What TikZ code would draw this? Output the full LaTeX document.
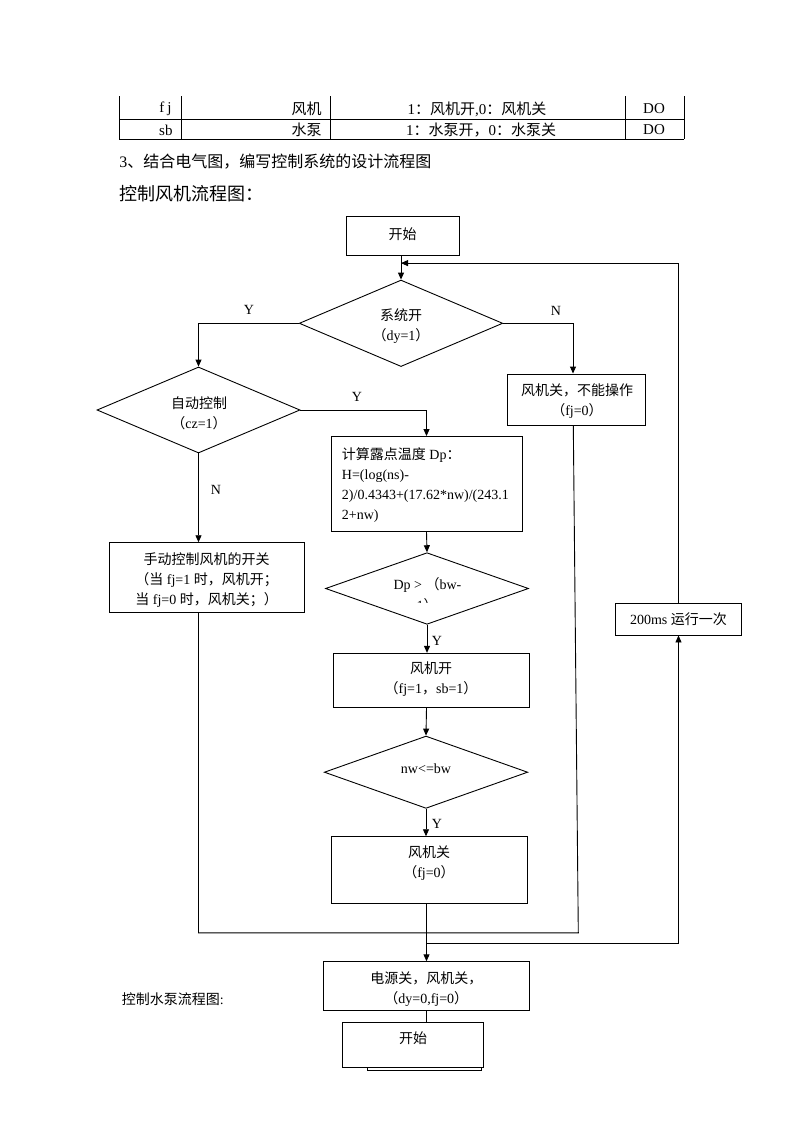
\documentclass[tikz,border=0pt]{standalone}
\usepackage{fontspec}
\setmainfont{Liberation Serif}
\newfontfamily\cjk{Noto Sans CJK SC}
\newcommand\zh[1]{{\cjk #1}}
\usetikzlibrary{shapes.geometric,arrows.meta,calc}
\begin{document}
\begin{tikzpicture}[x=1pt,y=-1pt,line width=0.9pt,
  box/.style={draw,rectangle,inner sep=0pt},
  dia/.style={draw,diamond,inner sep=0pt},
  txt/.style={inner sep=0pt,align=center,font=\fontsize{14}{20}\selectfont},
  lab/.style={inner sep=0pt,font=\fontsize{14}{16}\selectfont},
  tb/.style={inner sep=0pt,font=\fontsize{15}{18}\selectfont},
  arr/.style={-{Triangle[length=7pt,width=6pt]}}]
\path[use as bounding box,fill=white] (0,0) rectangle (800,1132);

% ---- table
\draw (119.3,119.3) -- (684.3,119.3) (119.3,139.3) -- (684.3,139.3);
\foreach \x in {119.3,181,330,625,684.3} \draw (\x,96) -- (\x,139.3);
\node[tb,anchor=east] (r1a) at (172,109) {f\hspace{3pt}j};
\node[tb,anchor=east] (r1b) at (322,109) {\zh{风机}};
\node[tb] (r1c) at (477,109) {1\zh{：风机开},0\zh{：风机关}};
\node[tb] (r1d) at (654,109) {DO};
\node[tb,anchor=east] (r2a) at (173,130) {sb};
\node[tb,anchor=east] (r2b) at (322,130) {\zh{水泵}};
\node[tb] (r2c) at (481,130) {1\zh{：水泵开，}0\zh{：水泵关}};
\node[tb] (r2d) at (654,130) {DO};

% ---- headings
\node[inner sep=0pt,anchor=west,font=\fontsize{16}{18}\selectfont] (h1) at (119,162) {3\zh{、结合电气图，编写控制系统的设计流程图}};
\node[inner sep=0pt,anchor=west,font=\fontsize{18}{20}\selectfont] (h2) at (119,194) {\zh{控制风机流程图：}};
\node[inner sep=0pt,anchor=west,font=\fontsize{14}{16}\selectfont] (h3) at (121.5,999.5) {\zh{控制水泵流程图}:};

% ---- flowchart shapes
\coordinate (spine) at (426.5,0);
\node[box,minimum width=113pt,minimum height=39pt] (start) at (402.5,235.5) {};
\node[dia,minimum width=203.5pt,minimum height=86.5pt] (d1) at (401,323.3) {};
\node[box,minimum width=138pt,minimum height=51pt] (nofan) at (576,399.5) {};
\node[dia,minimum width=203pt,minimum height=86pt] (d2) at (198.5,410) {};
\node[box,minimum width=191pt,minimum height=95pt] (calc) at (427.2,484) {};
\node[box,minimum width=195.3pt,minimum height=70pt] (manual) at (206.6,577.7) {};
\node[dia,minimum width=203pt,minimum height=71.6pt] (dp) at (427,588.5) {};
\node[box,minimum width=196pt,minimum height=54pt] (fanon) at (431.3,680.3) {};
\node[dia,minimum width=203.4pt,minimum height=72.3pt] (nw) at (426,772.2) {};
\node[box,minimum width=195.6pt,minimum height=66.6pt] (fanoff) at (429.5,870) {};
\node[box,minimum width=126pt,minimum height=32pt] (timer) at (678.5,619) {};
\node[box,minimum width=206pt,minimum height=48.3pt] (power) at (426.3,985.9) {};
\node[box,minimum width=141pt,minimum height=44.6pt] (start2) at (412.8,1045) {};
\draw[line width=0.7pt] (367.7,1067.3) rectangle (481,1070.2);

% ---- texts
\node[txt] (tstart) at (402.5,234) {\zh{开始}};
\node[txt] (td1) at (401,326.5) {\zh{系统开}\\\zh{（}dy=1\zh{）}};
\node[txt] (tnofan) at (577,401) {\zh{风机关，不能操作}\\\zh{（}fj=0\zh{）}};
\node[txt] (td2) at (199,413) {\zh{自动控制}\\\zh{（}cz=1\zh{）}};
\node[txt,align=left,anchor=west] (tcalc) at (341.5,485) {\zh{计算露点温度} Dp\zh{：}\\H=(log(ns)-\\2)/0.4343+(17.62*nw)/(243.1\\2+nw)};
\node[txt] (tmanual) at (206.6,580) {\zh{手动控制风机的开关}\\\zh{（当} fj=1 \zh{时，风机开；}\\\zh{当} fj=0 \zh{时，风机关；）}};
\node[txt] (tdp) at (427.5,585) {Dp > \zh{（}bw-};
\begin{scope}
\clip (390,595) rectangle (470,602.5);
\node[txt] (tdp2) at (427,605.5) {1\zh{）}};
\end{scope}
\node[txt] (tfanon) at (431,679.5) {\zh{风机开}\\\zh{（}fj=1\zh{，}sb=1\zh{）}};
\node[txt] (tnw) at (426,768.5) {nw<=bw};
\node[txt] (tfanoff) at (429,863) {\zh{风机关}\\\zh{（}fj=0\zh{）}};
\node[txt] (ttimer) at (678.5,619) {200ms \zh{运行一次}};
\node[txt] (tpower) at (426.3,989.5) {\zh{电源关，风机关，}\\\zh{（}dy=0,fj=0\zh{）}};
\node[txt] (tstart2) at (413,1038.5) {\zh{开始}};

% ---- labels
\node[lab] (ly1) at (249,310) {Y};
\node[lab] (ln1) at (556,311) {N};
\node[lab] (ly2) at (357,397) {Y};
\node[lab] (ln2) at (216,490) {N};
\node[lab] (ly3) at (437,641) {Y};
\node[lab] (ly4) at (437,824) {Y};

% ---- connectors
\draw[arr] (d1.north |- start.south) -- (d1.north);
\draw[arr] (timer.north) |- ($(d1.north)+(0,-16.5)$);
\draw[arr] (d1.west) -| (d2.north);
\draw[arr] (d1.east) -| ($(nofan.north)+(-3,0)$);
\draw[arr] (d2.east) -| (spine |- calc.north);
\draw[arr] (d2.south) -- (d2.south |- manual.north);
\draw[arr] (spine |- calc.south) -- (dp.north);
\draw[arr] (dp.south) -- (dp.south |- fanon.north);
\draw[arr] (spine |- fanon.south) -- (nw.north);
\draw[arr] (nw.south) -- (nw.south |- fanoff.north);
\draw[arr] (spine |- fanoff.south) -- (spine |- power.north);
\coordinate (c1) at (578.3,932.8);
\draw (d2.south |- manual.south) |- (c1) -- ($(nofan.south)+(-2.7,0)$);
\coordinate (c2) at (426.5,943.3);
\draw[arr] (c2) -| (timer.south);
\draw (spine |- power.south) -- (spine |- start2.north);
\end{tikzpicture}
\end{document}
